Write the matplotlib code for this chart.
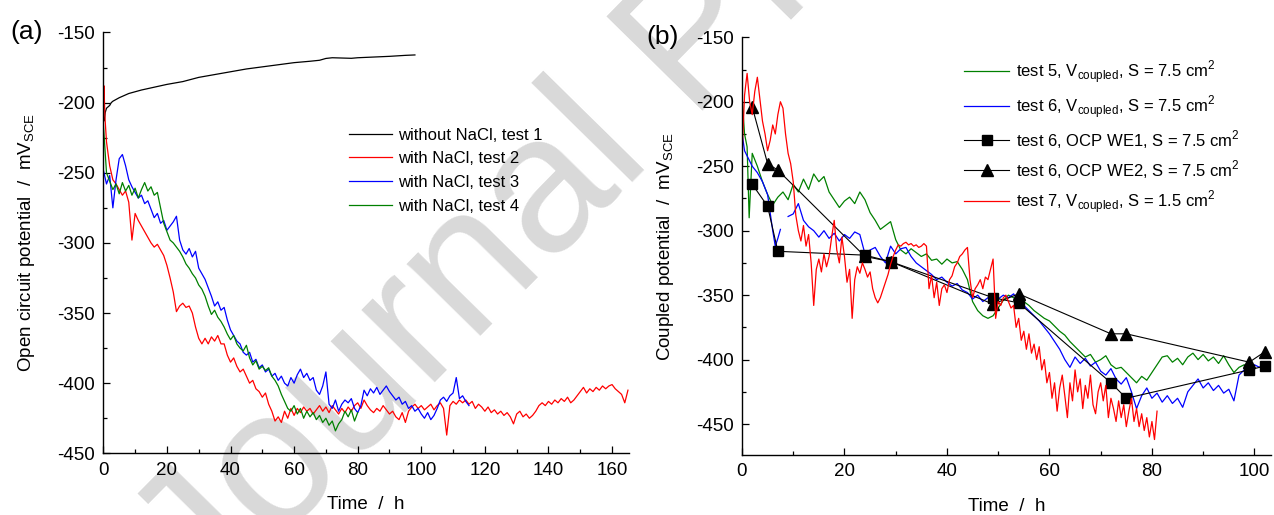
import numpy as np
import matplotlib
matplotlib.use("Agg")
import matplotlib.pyplot as plt
from matplotlib.ticker import MultipleLocator

plt.rcParams['font.family'] = ['Liberation Sans', 'DejaVu Sans']
plt.rcParams['axes.unicode_minus'] = False

# ---------------- Data (a) ----------------
# test 1, without NaCl
t1 = [0, 0.3, 0.6, 1, 1.5, 2, 2.5, 3, 5, 8, 12, 16, 20, 25, 30, 35, 40, 45, 50,
      55, 60, 65, 68, 70, 72, 75, 78, 80, 85, 90, 95, 98]
v1 = [-210, -213, -207, -204, -203, -202, -200, -199, -196.5, -193.5, -191, -189,
      -187, -185, -182, -180, -178, -176, -174.5, -173, -171.5, -170.5, -169.8,
      -168.5, -168, -168.2, -168.4, -168, -167.5, -167, -166.3, -166]

# test 2, with NaCl
t2 = np.r_[0, 0.2, 0.5, np.arange(1, 166)]
v2 = [-200, -188, -210,
      -228, -245, -255, -258, -262, -266, -263, -271, -298, -279,
      -284, -288, -292, -296, -300, -303, -301, -305, -309, -316,
      -325, -335, -349, -345, -343, -346, -345, -350, -360, -368,
      -372, -368, -372, -367, -370, -366, -372, -372, -380, -385,
      -382, -388, -392, -390, -395, -400, -398, -404, -406, -410,
      -407, -415, -420, -427, -424, -428, -420, -425, -418, -423,
      -418, -421, -417, -420, -418, -422, -419, -416, -420, -417,
      -421, -416, -419, -422, -418, -421, -417, -420, -416, -414,
      -418, -412, -416, -419, -421, -418, -420, -416, -419, -422,
      -420, -424, -426, -421, -428, -420, -417, -415, -418, -416,
      -419, -417, -415, -419, -416, -414, -418, -437, -416, -413,
      -415, -412, -414, -412, -415, -413, -418, -415, -417, -420,
      -417, -421, -419, -422, -420, -423, -421, -424, -429, -422,
      -420, -424, -422, -425, -423, -420, -416, -414, -416, -413,
      -415, -412, -414, -411, -413, -410, -414, -412, -409, -406,
      -403, -407, -404, -406, -403, -405, -402, -404, -402, -401,
      -404, -406, -408, -414, -405]

# test 3, with NaCl
t3 = np.arange(0, 116)
v3 = [-248, -258, -252, -275, -255, -240, -237, -245, -255, -260,
      -264, -268, -266, -272, -270, -276, -282, -279, -286, -284,
      -291, -288, -285, -281, -298, -305, -308, -304, -310, -306,
      -318, -322, -326, -332, -338, -345, -342, -348, -346, -355,
      -362, -366, -370, -372, -378, -380, -378, -385, -383, -389,
      -387, -392, -390, -395, -393, -398, -395, -400, -402, -396,
      -400, -394, -390, -396, -393, -398, -396, -405, -408, -402,
      -392, -415, -418, -412, -420, -415, -412, -414, -411, -418,
      -421, -416, -405, -409, -404, -407, -403, -408, -405, -402,
      -406, -409, -412, -410, -415, -413, -418, -416, -420, -418,
      -422, -425, -421, -426, -423, -418, -412, -410, -413, -409,
      -407, -396, -411, -409, -413, -416]

# test 4, with NaCl
t4 = np.arange(0, 81)
v4 = [-215, -250, -256, -262, -258, -265, -257, -263, -259, -266,
      -261, -268, -262, -257, -263, -260, -266, -264, -275, -286,
      -292, -298, -300, -303, -306, -310, -315, -318, -322, -325,
      -330, -333, -338, -345, -351, -348, -353, -356, -360, -365,
      -369, -366, -372, -375, -377, -373, -382, -387, -384, -390,
      -388, -391, -389, -395, -398, -402, -408, -413, -418, -420,
      -416, -422, -418, -425, -420, -424, -421, -426, -423, -428,
      -425, -430, -427, -434, -429, -426, -420, -424, -419, -427,
      -421]

# ---------------- Data (b) ----------------
# test 5, V coupled, S = 7.5 cm2
t5 = np.r_[0, 0.5, 1, 1.4, np.arange(2, 99)]
v5 = [-195, -225, -235, -290,
      -240, -250, -262, -272, -280, -274, -270, -276, -264, -270,
      -260, -268, -256, -262, -258, -270, -276, -282, -277, -274,
      -279, -270, -276, -286, -292, -299, -296, -293, -307, -315,
      -318, -314, -317, -320, -318, -323, -322, -326, -322, -325,
      -324, -330, -338, -355, -362, -366, -368, -366, -360, -354,
      -350, -352, -354, -355, -358, -362, -365, -368, -370, -374,
      -378, -381, -386, -390, -394, -398, -396, -402, -400, -397,
      -404, -407, -406, -410, -414, -418, -413, -416, -410, -404,
      -398, -397, -402, -399, -404, -398, -395, -400, -396, -401,
      -398, -403, -397, -404, -410, -406, -404]

# test 6, V coupled, S = 7.5 cm2 (gap near 8 h)
t6 = np.r_[0, 0.5, 1, 2, 3, 4, 5, 6, 6.5, 7, 7.5, 8, np.arange(9, 104)]
v6 = [-224, -238, -242, -250, -255, -262, -272, -300, -312, -306, -299, np.nan,
      -289, -287, -279, -292, -297, -300, -305, -300, -306, -302,
      -308, -303, -306, -301, -303, -318, -315, -313, -320, -325,
      -312, -318, -314, -313, -320, -325, -328, -331, -334, -338,
      -336, -340, -343, -341, -346, -348, -353, -350, -355, -352,
      -356, -353, -350, -352, -349, -355, -358, -362, -366, -370,
      -375, -380, -386, -392, -400, -406, -398, -403, -399, -405,
      -402, -409, -412, -407, -415, -419, -414, -425, -438, -428,
      -422, -430, -426, -433, -428, -434, -430, -437, -425, -420,
      -415, -422, -418, -424, -420, -426, -423, -432, -412, -408,
      -406, -404, -406, -403, -404]

# test 6, OCP of WE1 and WE2
t_ocp = [2, 5, 7, 24, 29, 49, 54, 72, 75, 99, 102]
v_we1 = [-264, -281, -316, -319, -324, -352, -356, -418, -430, -408, -405]
v_we2 = [-204, -248, -253, -320, -324, -357, -349, -380, -380, -402, -394]

# test 7, V coupled, S = 1.5 cm2
t7 = np.arange(0, 81.5, 0.5)
v7 = [-242, -195, -178, -200, -210, -192, -181, -198, -215, -225,
      -238, -230, -218, -225, -210, -200, -205, -225, -240, -248,
      -262, -288, -300, -308, -296, -312, -303, -325, -358, -330,
      -322, -332, -318, -328, -320, -305, -292, -315, -325, -305,
      -320, -340, -330, -368, -338, -328, -333, -325, -330, -336,
      -332, -345, -352, -356, -352, -346, -340, -334, -326, -320,
      -315, -311, -312, -310, -309, -311, -310, -312, -311, -313,
      -312, -310, -312, -345, -335, -352, -340, -358, -345, -342,
      -348, -338, -335, -328, -325, -320, -318, -315, -313, -338,
      -352, -345, -342, -338, -345, -336, -338, -330, -322, -368,
      -355, -358, -352, -350, -355, -360, -358, -375, -368, -385,
      -378, -392, -380, -395, -388, -400, -390, -408, -400, -418,
      -410, -430, -418, -440, -422, -412, -428, -445, -418, -432,
      -408, -425, -415, -438, -420, -430, -412, -435, -442, -425,
      -418, -432, -420, -445, -430, -438, -448, -432, -445, -435,
      -452, -440, -430, -448, -438, -452, -442, -455, -445, -460,
      -448, -462, -440]

labels_a = ["without NaCl, test 1", "with NaCl, test 2",
            "with NaCl, test 3", "with NaCl, test 4"]
labels_b = [r"test 5, V$_\mathregular{coupled}$, S = 7.5 cm$^\mathregular{2}$",
            r"test 6, V$_\mathregular{coupled}$, S = 7.5 cm$^\mathregular{2}$",
            r"test 6, OCP WE1, S = 7.5 cm$^\mathregular{2}$",
            r"test 6, OCP WE2, S = 7.5 cm$^\mathregular{2}$",
            r"test 7, V$_\mathregular{coupled}$, S = 1.5 cm$^\mathregular{2}$"]

# ---------------- Figure ----------------
fig = plt.figure(figsize=(12.74, 5.15), dpi=100)

# watermark, behind everything
fig.text(0.162, -0.194, "Journal Pre-proof", rotation=45.5, rotation_mode='anchor',
         ha='left', va='baseline', fontsize=140, color='#d9d9d9', zorder=-1)

ax1 = fig.add_axes([0.0811, 0.1198, 0.4123, 0.8171])
ax2 = fig.add_axes([0.5824, 0.1165, 0.4151, 0.8111])

for ax in (ax1, ax2):
    ax.set_facecolor('none')
    ax.spines['top'].set_visible(False)
    ax.spines['right'].set_visible(False)
    ax.spines['left'].set_linewidth(1.0)
    ax.spines['bottom'].set_linewidth(1.0)
    ax.xaxis.set_major_locator(MultipleLocator(20))
    ax.xaxis.set_minor_locator(MultipleLocator(10))
    ax.yaxis.set_major_locator(MultipleLocator(50))
    ax.yaxis.set_minor_locator(MultipleLocator(25))
    ax.tick_params(which='both', direction='in', width=0.9, labelsize=13.5)
    ax.tick_params(axis='x', which='both', pad=6)
    ax.tick_params(axis='y', which='both', pad=6)
    ax.tick_params(which='major', length=5)
    ax.tick_params(which='minor', length=2.6)

lw = 0.9
ax1.plot(t1, v1, color='black', lw=lw, label=labels_a[0])
ax1.plot(t2, v2, color='red', lw=lw, label=labels_a[1])
ax1.plot(t3, v3, color='blue', lw=lw, label=labels_a[2])
ax1.plot(t4, v4, color='green', lw=lw, label=labels_a[3])
ax1.set_xlim(0, 165.2)
ax1.set_ylim(-450, -150)
ax1.set_xlabel("Time  /  h", fontsize=13.5, labelpad=12.5)
ax1.set_ylabel(r"Open circuit potential  /  mV$_\mathregular{SCE}$", fontsize=13.5, labelpad=14.5)
ax1.legend(loc='upper left', bbox_to_anchor=(0.468, 0.774), frameon=False,
           fontsize=12, handlelength=2.6, handletextpad=0.35, labelspacing=0.52,
           borderpad=0, borderaxespad=0)
ax1.text(-0.177, 1.0, "(a)", transform=ax1.transAxes, fontsize=19, va='center', ha='left')

ax2.plot(t5, v5, color='green', lw=lw, label=labels_b[0])
ax2.plot(t6, v6, color='blue', lw=lw, label=labels_b[1])
ax2.plot(t_ocp, v_we1, color='black', lw=0.8, marker='s', ms=6.5, label=labels_b[2])
ax2.plot(t_ocp, v_we2, color='black', lw=0.8, marker='^', ms=8.5, label=labels_b[3])
ax2.plot(t7, v7, color='red', lw=lw, label=labels_b[4])
ax2.set_xlim(0, 103.2)
ax2.set_ylim(-474, -150)
ax2.set_xlabel("Time  /  h", fontsize=13.5, labelpad=12.5)
ax2.set_ylabel(r"Coupled potential  /  mV$_\mathregular{SCE}$", fontsize=13.5, labelpad=14)
ax2.legend(loc='upper left', bbox_to_anchor=(0.42, 0.95), frameon=False,
           fontsize=12, handlelength=2.7, handletextpad=0.4, labelspacing=0.45,
           borderpad=0, borderaxespad=0)
ax2.text(-0.18, 1.0, "(b)", transform=ax2.transAxes, fontsize=19, va='center', ha='left')

fig.savefig("out.png", dpi=100)
